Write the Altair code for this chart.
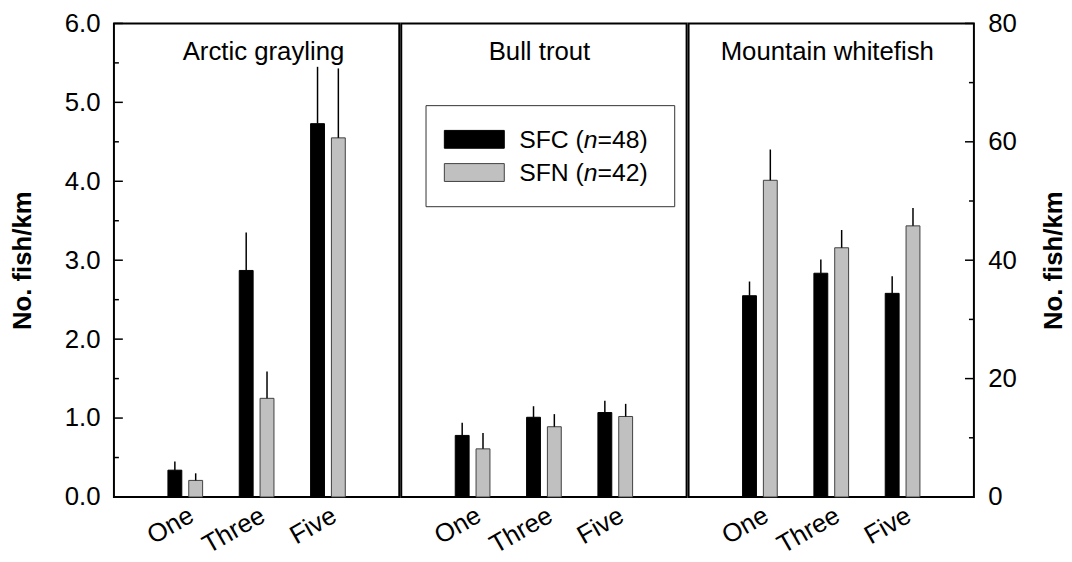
import altair as alt
import pandas as pd

FONT = "Liberation Sans"

# Time since treatment and the two stream groups
periods = ["One", "Three", "Five"]
groups = ["SFC", "SFN"]
group_labels = {"SFC": "48", "SFN": "42"}

# Mean density (fish/km) and standard error, by species
grayling_sfc = [0.34, 2.87, 4.73]
grayling_sfc_se = [0.11, 0.48, 0.72]
grayling_sfn = [0.21, 1.25, 4.55]
grayling_sfn_se = [0.09, 0.34, 0.88]

trout_sfc = [0.78, 1.01, 1.07]
trout_sfc_se = [0.16, 0.14, 0.15]
trout_sfn = [0.61, 0.89, 1.02]
trout_sfn_se = [0.20, 0.16, 0.16]

whitefish_sfc = [34.0, 37.8, 34.4]
whitefish_sfc_se = [2.4, 2.3, 2.9]
whitefish_sfn = [53.5, 42.1, 45.8]
whitefish_sfn_se = [5.2, 3.0, 3.0]

# Axis tick values
left_major = [0, 1, 2, 3, 4, 5, 6]
left_minor = [0.5, 1.5, 2.5, 3.5, 4.5, 5.5]
right_major = [0, 20, 40, 60, 80]
right_minor = [10, 30, 50, 70]

PANEL_W = 288
PANEL_H = 478
FS = 26


def table(sfc, sfc_se, sfn, sfn_se):
    rows = []
    for i, p in enumerate(periods):
        rows.append({"period": p, "group": "SFC", "mean": sfc[i], "upper": sfc[i] + sfc_se[i]})
        rows.append({"period": p, "group": "SFN", "mean": sfn[i], "upper": sfn[i] + sfn_se[i]})
    return pd.DataFrame(rows)


x_enc = alt.X(
    "period:N", sort=periods,
    scale=alt.Scale(paddingInner=0, paddingOuter=0.5),
    axis=alt.Axis(title=None, labelAngle=330, labelFontSize=FS, labelFont=FONT,
                  labelColor="black", domain=False, ticks=False, labelPadding=5, grid=False),
)
xo_enc = alt.XOffset("group:N", sort=groups,
                     scale=alt.Scale(paddingInner=1 / 3, paddingOuter=0.88))


def panel(df, species, title_x, ymax, axis, ticks=None, tick_side="left"):
    yscale = alt.Scale(domain=[0, ymax], nice=False, zero=True)
    base = alt.Chart(df)
    bars = base.mark_bar(strokeWidth=1).encode(
        x=x_enc, xOffset=xo_enc,
        y=alt.Y("mean:Q", scale=yscale, axis=axis),
        fill=alt.Fill("group:N", scale=alt.Scale(domain=groups, range=["#000000", "#c0c0c0"]), legend=None),
        stroke=alt.Stroke("group:N", scale=alt.Scale(domain=groups, range=["#000000", "#404040"]), legend=None),
    )
    errs = base.mark_rule(color="black", strokeWidth=1.5).encode(
        x=x_enc, xOffset=xo_enc,
        y=alt.Y("upper:Q", scale=yscale, axis=axis),
        y2="mean:Q",
    )
    title = alt.Chart(pd.DataFrame({"t": [species]})).mark_text(
        font=FONT, fontSize=FS, align="center", baseline="alphabetic", color="black"
    ).encode(text="t:N", x=alt.value(title_x), y=alt.value(37))
    layers = [bars, errs, title]
    if ticks is not None:
        major, minor = ticks
        for vals, length in ((major, 9), (minor, 5)):
            if tick_side == "left":
                x0, x1 = 0, length
            else:
                x0, x1 = PANEL_W - length, PANEL_W
            layers.append(
                alt.Chart(pd.DataFrame({"v": vals})).mark_rule(color="black", strokeWidth=1.5).encode(
                    x=alt.value(x0), x2=alt.value(x1),
                    y=alt.Y("v:Q", scale=yscale, axis=axis),
                )
            )
    return layers


left_axis = alt.Axis(
    title="No. fish/km", titleFont=FONT, titleFontSize=FS, titleFontWeight="bold",
    titleColor="black", titleAngle=270, titleBaseline="bottom", titlePadding=29,
    values=left_major, format=".1f", labelFont=FONT, labelFontSize=FS, labelColor="black",
    labelPadding=14, domain=False, ticks=False, grid=False,
)
right_axis = alt.Axis(
    orient="right",
    title="No. fish/km", titleFont=FONT, titleFontSize=FS, titleFontWeight="bold",
    titleColor="black", titleAngle=270, titleBaseline="top", titlePadding=24,
    values=right_major, format="d", labelFont=FONT, labelFontSize=FS, labelColor="black",
    labelPadding=14, domain=False, ticks=False, grid=False,
)

p1 = alt.layer(*panel(table(grayling_sfc, grayling_sfc_se, grayling_sfn, grayling_sfn_se),
                      "Arctic grayling", 151, 6, left_axis, (left_major, left_minor), "left"))

# Legend drawn inside the middle panel
ADV = {"S": 667, "F": 611, "C": 722, "N": 722, " ": 278, "(": 333, ")": 333,
       "n": 556, "=": 584, "4": 556, "8": 556, "2": 556}


def text_width(s, size):
    return sum(ADV[c] for c in s) * size / 1000.0


legend_layers = [
    alt.Chart(pd.DataFrame({"k": [0]})).mark_rect(fill="white", stroke="#333333", strokeWidth=1).encode(
        x=alt.value(25), x2=alt.value(276), y=alt.value(83), y2=alt.value(185)
    )
]
row_y = {"SFC": 117, "SFN": 150.5}
swatch = {"SFC": ("#000000", "#000000"), "SFN": ("#c0c0c0", "#404040")}
LFS = 25
for g in groups:
    fill, stroke = swatch[g]
    cy = row_y[g]
    legend_layers.append(
        alt.Chart(pd.DataFrame({"k": [g]})).mark_rect(fill=fill, stroke=stroke, strokeWidth=1).encode(
            x=alt.value(43.5), x2=alt.value(104), y=alt.value(cy - 9), y2=alt.value(cy + 9)
        )
    )
    pieces = [(g + " (", "normal"), ("n", "italic"), ("=" + group_labels[g] + ")", "normal")]
    tx = 119
    for s, style in pieces:
        legend_layers.append(
            alt.Chart(pd.DataFrame({"t": [s]})).mark_text(
                font=FONT, fontSize=LFS, fontStyle=style, align="left", baseline="middle", color="black"
            ).encode(text="t:N", x=alt.value(tx), y=alt.value(cy + 1))
        )
        tx += text_width(s, LFS)

p2 = alt.layer(*(panel(table(trout_sfc, trout_sfc_se, trout_sfn, trout_sfn_se),
                       "Bull trout", 139.5, 6, None) + legend_layers))

p3 = alt.layer(*panel(table(whitefish_sfc, whitefish_sfc_se, whitefish_sfn, whitefish_sfn_se),
                      "Mountain whitefish", 140, 80, right_axis, (right_major, right_minor), "right"))

chart = (
    alt.hconcat(
        p1.properties(width=PANEL_W, height=PANEL_H),
        p2.properties(width=PANEL_W, height=PANEL_H),
        p3.properties(width=PANEL_W, height=PANEL_H),
        spacing=0,
    )
    .resolve_scale(y="independent", x="independent")
    .properties(padding={"left": 8, "top": 7, "right": 5, "bottom": 2}, background="white")
    .configure_view(stroke="black", strokeWidth=2)
    .configure_concat(spacing=0)
)

chart.save("out.html", embed_options={"renderer": "svg", "actions": False})
